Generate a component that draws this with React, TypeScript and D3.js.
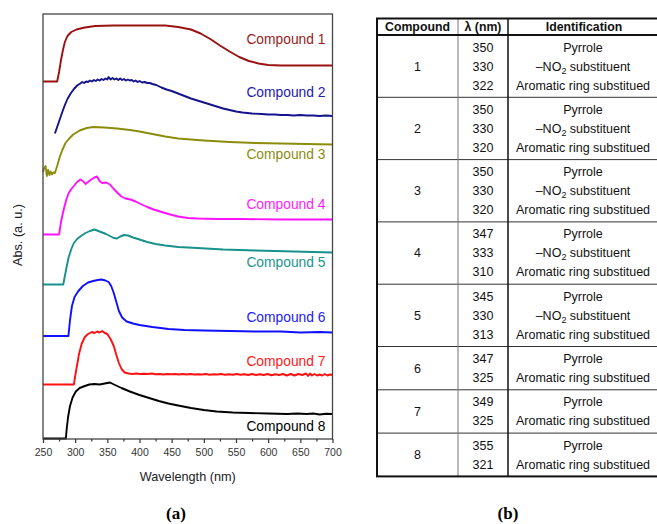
import React, {useEffect, useRef} from 'react';
import * as d3 from 'd3';

// wavelength (nm), absorbance (a.u., curves are stacked with an offset)
const compound1 = [
    [250, 7.15], [272, 7.15], [275, 7.34], [278, 7.58], [281, 7.78], [284, 7.94], [288, 8.06], [294, 8.14],
    [302, 8.19], [315, 8.23], [331, 8.26], [360, 8.27], [400, 8.27], [440, 8.27], [460, 8.24], [480, 8.19],
    [495, 8.11], [510, 8.0], [525, 7.87], [540, 7.75], [555, 7.64], [570, 7.56], [585, 7.51], [600, 7.48],
    [620, 7.47], [700, 7.47],
];
const compound2 = [
    [268.5, 6.11], [272, 6.24], [276, 6.39], [280, 6.54], [284, 6.68], [288, 6.8], [293, 6.91], [298, 7.0],
    [303, 7.07], [308, 7.11], [311, 7.14], [314, 7.12], [317, 7.15], [320, 7.14], [323, 7.17], [326, 7.15],
    [329, 7.18], [332, 7.16], [335, 7.19], [338, 7.17], [341, 7.2], [344, 7.18], [347, 7.21], [350, 7.19],
    [352, 7.24], [355, 7.19], [358, 7.22], [361, 7.19], [364, 7.21], [367, 7.18], [370, 7.21], [373, 7.18],
    [376, 7.2], [379, 7.17], [382, 7.19], [385, 7.17], [388, 7.18], [391, 7.15], [394, 7.17], [397, 7.14],
    [400, 7.16], [404, 7.13], [408, 7.14], [412, 7.12], [416, 7.12], [420, 7.1], [426, 7.08], [434, 7.03],
    [442, 6.99], [450, 6.96], [460, 6.91], [470, 6.86], [480, 6.81], [490, 6.77], [500, 6.73], [510, 6.69],
    [520, 6.65], [530, 6.61], [540, 6.58], [550, 6.55], [560, 6.53], [575, 6.51], [590, 6.5], [600, 6.49],
    [610, 6.49], [620, 6.48], [630, 6.48], [640, 6.47], [650, 6.48], [660, 6.47], [670, 6.47], [680, 6.46],
    [690, 6.47], [700, 6.46],
];
const compound3 = [
    [250, 5.34], [252, 5.42], [254, 5.46], [256, 5.26], [258, 5.38], [260, 5.28], [262, 5.35], [264, 5.29],
    [266, 5.33], [268.5, 5.32], [272, 5.46], [276, 5.64], [280, 5.78], [285, 5.92], [290, 6.0], [297, 6.09],
    [307, 6.17], [318, 6.22], [328, 6.24], [345, 6.23], [365, 6.21], [385, 6.18], [400, 6.15], [420, 6.1],
    [440, 6.05], [460, 6.01], [480, 5.99], [500, 5.97], [540, 5.94], [580, 5.92], [620, 5.91], [660, 5.9],
    [700, 5.89],
];
const compound4 = [
    [250, 4.09], [275, 4.09], [278, 4.34], [282, 4.58], [286, 4.78], [290, 4.92], [294, 5.0], [298, 5.06],
    [303, 5.14], [308, 5.19], [312, 5.16], [316, 5.1], [320, 5.14], [325, 5.19], [330, 5.23], [334, 5.25],
    [338, 5.16], [342, 5.12], [348, 5.13], [354, 5.09], [360, 5.0], [366, 4.92], [372, 4.85], [378, 4.81],
    [386, 4.79], [394, 4.75], [402, 4.7], [412, 4.64], [422, 4.59], [432, 4.55], [445, 4.5], [460, 4.45],
    [475, 4.42], [490, 4.41], [520, 4.4], [560, 4.4], [620, 4.39], [700, 4.39],
];
const compound5 = [
    [250, 3.09], [281.5, 3.09], [284, 3.26], [287, 3.46], [290, 3.64], [294, 3.8], [298, 3.92], [303, 4.0],
    [309, 4.06], [316, 4.12], [323, 4.16], [330, 4.19], [336, 4.16], [342, 4.13], [348, 4.1], [354, 4.06],
    [360, 4.02], [365, 4.01], [370, 4.05], [376, 4.08], [382, 4.07], [390, 4.03], [400, 3.99], [412, 3.94],
    [425, 3.9], [440, 3.87], [460, 3.84], [490, 3.82], [530, 3.79], [580, 3.77], [640, 3.75], [700, 3.73],
];
const compound6 = [
    [250, 2.06], [289.5, 2.06], [292, 2.38], [295, 2.66], [299, 2.84], [305, 2.96], [312, 3.06], [320, 3.13],
    [328, 3.16], [335, 3.18], [341, 3.19], [347, 3.17], [352, 3.14], [356, 3.06], [360, 2.92], [364, 2.74],
    [368, 2.56], [373, 2.43], [380, 2.35], [390, 2.31], [400, 2.28], [420, 2.24], [445, 2.2], [470, 2.18],
    [500, 2.17], [540, 2.16], [580, 2.15], [620, 2.15], [650, 2.13], [680, 2.14], [700, 2.13],
];
const compound7 = [
    [250, 1.09], [298, 1.09], [300, 1.26], [303, 1.48], [306, 1.7], [310, 1.9], [315, 2.04], [320, 2.1],
    [326, 2.14], [330, 2.12], [334, 2.15], [338, 2.13], [342, 2.16], [346, 2.12], [350, 2.1], [355, 2.0],
    [360, 1.86], [364, 1.68], [368, 1.52], [372, 1.4], [377, 1.33], [383, 1.31], [389, 1.3], [395, 1.31],
    [401, 1.3], [407, 1.305], [413, 1.3], [419, 1.31], [425, 1.295], [431, 1.3], [437, 1.29], [443, 1.3],
    [449, 1.295], [455, 1.3], [461, 1.29], [467, 1.3], [473, 1.29], [479, 1.3], [485, 1.29], [491, 1.295],
    [497, 1.29], [503, 1.3], [509, 1.285], [515, 1.295], [521, 1.29], [527, 1.3], [533, 1.285], [539, 1.295],
    [545, 1.285], [551, 1.3], [557, 1.285], [563, 1.295], [569, 1.28], [575, 1.3], [581, 1.28], [587, 1.295],
    [593, 1.28], [599, 1.3], [605, 1.275], [611, 1.295], [617, 1.28], [623, 1.3], [629, 1.27], [635, 1.3],
    [641, 1.27], [647, 1.3], [653, 1.28], [659, 1.31], [662, 1.26], [665, 1.31], [668, 1.27], [672, 1.3],
    [676, 1.27], [680, 1.29], [684, 1.27], [688, 1.3], [692, 1.27], [696, 1.29], [700, 1.28],
];
const compound8 = [
    [250, 0.01], [285.5, 0.01], [287, 0.22], [289, 0.44], [292, 0.66], [296, 0.83], [301, 0.95], [307, 1.02],
    [315, 1.06], [322, 1.09], [330, 1.1], [338, 1.09], [346, 1.11], [354, 1.13], [362, 1.08], [372, 1.02],
    [385, 0.95], [400, 0.88], [415, 0.82], [430, 0.76], [445, 0.71], [460, 0.67], [480, 0.62], [500, 0.58],
    [520, 0.55], [545, 0.53], [570, 0.52], [600, 0.51], [615, 0.505], [630, 0.5], [645, 0.51], [660, 0.5],
    [670, 0.51], [680, 0.49], [690, 0.505], [700, 0.5],
];

const compounds = [compound1, compound2, compound3, compound4, compound5, compound6, compound7, compound8];
const compoundNames = ['Compound 1', 'Compound 2', 'Compound 3', 'Compound 4', 'Compound 5', 'Compound 6', 'Compound 7', 'Compound 8'];
const compoundColors = ['#9b1111', '#13138c', '#8c8c0c', '#ff10ff', '#17918b', '#1010ff', '#ff1010', '#000000'];
const labelColors = ['#9b1a1a', '#2020b0', '#8c8c10', '#ff20ff', '#20958f', '#2020ff', '#ff2020', '#000000'];
const labelLevels = [8.0, 6.93, 5.69, 4.7, 3.53, 2.43, 1.55, 0.26];

const wavelengthTicks = [250, 300, 350, 400, 450, 500, 550, 600, 650, 700];
const minorTicks = [275, 325, 375, 425, 475, 525, 575, 625, 675];

// table (b)
const tableHeader = ['Compound', 'λ (nm)', 'Identification'];
const tableCompounds = ['1', '2', '3', '4', '5', '6', '7', '8'];
const tableWavelengths = [
    ['350', '330', '322'],
    ['350', '330', '320'],
    ['350', '330', '320'],
    ['347', '333', '310'],
    ['345', '330', '313'],
    ['347', '325'],
    ['349', '325'],
    ['355', '321'],
];
const tableIdentifications = [
    ['Pyrrole', '–NO2 substituent', 'Aromatic ring substitued'],
    ['Pyrrole', '–NO2 substituent', 'Aromatic ring substitued'],
    ['Pyrrole', '–NO2 substituent', 'Aromatic ring substitued'],
    ['Pyrrole', '–NO2 substituent', 'Aromatic ring substitued'],
    ['Pyrrole', '–NO2 substituent', 'Aromatic ring substitued'],
    ['Pyrrole', 'Aromatic ring substitued'],
    ['Pyrrole', 'Aromatic ring substitued'],
    ['Pyrrole', 'Aromatic ring substitued'],
];

const SANS = '"Liberation Sans", Arial, sans-serif';
const SERIF = '"Liberation Serif", "Times New Roman", serif';

const IdText = ({x, y, s}) => {
    // render NO2 with a subscript 2
    if (s.startsWith('–NO2')) {
        return (
            <text x={x} y={y} textAnchor="middle" dy="0.35em">
                –NO<tspan fontSize={9} dy={3}>2</tspan>
                <tspan dy={-3}>{s.slice(4)}</tspan>
            </text>
        );
    }
    return (
        <text x={x} y={y} textAnchor="middle" dy="0.35em">
            {s}
        </text>
    );
};

const App = () => {
    const axisRef = useRef(null);
    const minorRef = useRef(null);

    const width = 657;
    const height = 524;
    const plot = {left: 43, right: 332.5, top: 14, bottom: 439};

    const x = d3.scaleLinear().domain([250, 700]).range([plot.left, plot.right]);
    const y = d3.scaleLinear().domain([0, 8.5]).range([plot.bottom, plot.top]);

    const line = d3
        .line()
        .x((d) => x(d[0]))
        .y((d) => y(d[1]));

    useEffect(() => {
        const g = d3.select(axisRef.current);
        g.call(d3.axisBottom(x).tickValues(wavelengthTicks).tickSize(4).tickSizeOuter(0).tickPadding(6));
        g.select('.domain').remove();
        g.attr('font-family', SANS).attr('font-size', 10.5);
        g.selectAll('line').attr('stroke', '#333').attr('stroke-width', 1.2);
        g.selectAll('text').attr('fill', '#333');

        const m = d3.select(minorRef.current);
        m.call(
            d3
                .axisBottom(x)
                .tickValues(minorTicks)
                .tickSize(2.5)
                .tickSizeOuter(0)
                .tickFormat(() => '')
        );
        m.select('.domain').remove();
        m.selectAll('line').attr('stroke', '#333').attr('stroke-width', 1.2);
    }, []);

    // table geometry
    const tLeft = 377;
    const tRight = 660;
    const colX = [tLeft, 458, 508, tRight];
    const headTop = 18.5;
    const headBottom = 35;
    const lineGap = 19;
    const rowPad = 5.3;
    const rowTops = [];
    let acc = headBottom;
    tableWavelengths.forEach((w) => {
        rowTops.push(acc);
        acc += w.length * lineGap + rowPad;
    });
    const tBottom = acc;

    return (
        <svg
            width={width}
            height={height}
            style={{position: 'absolute', left: 0, top: 0, background: '#fff'}}
            fontFamily={SANS}
        >
            <rect width={width} height={height} fill="#fff" />

            {/* (a) spectra */}
            {compounds.map((c, i) => (
                <path key={i} d={line(c)} fill="none" stroke={compoundColors[i]} strokeWidth={1.9} strokeLinejoin="round" />
            ))}
            {compoundNames.map((n, i) => (
                <text
                    key={n}
                    x={x(689)}
                    y={y(labelLevels[i])}
                    dy="0.35em"
                    textAnchor="end"
                    fontSize={13.8}
                    fill={labelColors[i]}
                >
                    {n}
                </text>
            ))}
            <rect
                x={plot.left}
                y={plot.top}
                width={plot.right - plot.left}
                height={plot.bottom - plot.top}
                fill="none"
                stroke="#444"
                strokeWidth={1.3}
            />
            <g ref={axisRef} transform={`translate(0,${plot.bottom})`} />
            <g ref={minorRef} transform={`translate(0,${plot.bottom})`} />
            <text x={(plot.left + plot.right) / 2} y={477} dy="0.35em" textAnchor="middle" fontSize={12.7} fill="#222">
                Wavelength (nm)
            </text>
            <text transform="translate(18,235) rotate(-90)" dy="0.35em" textAnchor="middle" fontSize={12.7} fill="#222">
                Abs. (a. u.)
            </text>
            <text x={176} y={519} textAnchor="middle" fontFamily={SERIF} fontWeight="bold" fontSize={17}>
                (a)
            </text>

            {/* (b) table */}
            <g fontSize={12.5} fill="#111">
                {tableHeader.map((h, j) => (
                    <text
                        key={h}
                        x={(colX[j] + colX[j + 1]) / 2}
                        y={(headTop + headBottom) / 2}
                        dy="0.35em"
                        textAnchor="middle"
                        fontWeight="bold"
                        fontSize={12.3}
                    >
                        {h}
                    </text>
                ))}
                {tableCompounds.map((c, r) => {
                    const n = tableWavelengths[r].length;
                    const h = n * lineGap + rowPad;
                    const cy = rowTops[r] + h / 2;
                    return (
                        <g key={c}>
                            <text x={(colX[0] + colX[1]) / 2} y={cy} dy="0.35em" textAnchor="middle">
                                {c}
                            </text>
                            {tableWavelengths[r].map((w, k) => (
                                <text
                                    key={k}
                                    x={(colX[1] + colX[2]) / 2}
                                    y={cy + (k - (n - 1) / 2) * lineGap}
                                    dy="0.35em"
                                    textAnchor="middle"
                                >
                                    {w}
                                </text>
                            ))}
                            {tableIdentifications[r].map((s, k) => (
                                <IdText key={k} x={(colX[2] + colX[3]) / 2 - 1} y={cy + (k - (n - 1) / 2) * lineGap} s={s} />
                            ))}
                        </g>
                    );
                })}
            </g>
            {rowTops.slice(1).map((t, r) => (
                <line key={r} x1={tLeft} x2={tRight} y1={t} y2={t} stroke="#333" strokeWidth={1} />
            ))}
            <line x1={colX[1]} x2={colX[1]} y1={headTop} y2={tBottom} stroke="#777" strokeWidth={1} />
            <line x1={colX[2]} x2={colX[2]} y1={headTop} y2={tBottom} stroke="#111" strokeWidth={1.5} />
            <line x1={tLeft} x2={tRight} y1={headBottom} y2={headBottom} stroke="#111" strokeWidth={2} />
            <rect
                x={tLeft}
                y={headTop}
                width={tRight - tLeft}
                height={tBottom - headTop}
                fill="none"
                stroke="#111"
                strokeWidth={2}
            />
            <text x={508} y={519} textAnchor="middle" fontFamily={SERIF} fontWeight="bold" fontSize={17}>
                (b)
            </text>
        </svg>
    );
};

export default App;
